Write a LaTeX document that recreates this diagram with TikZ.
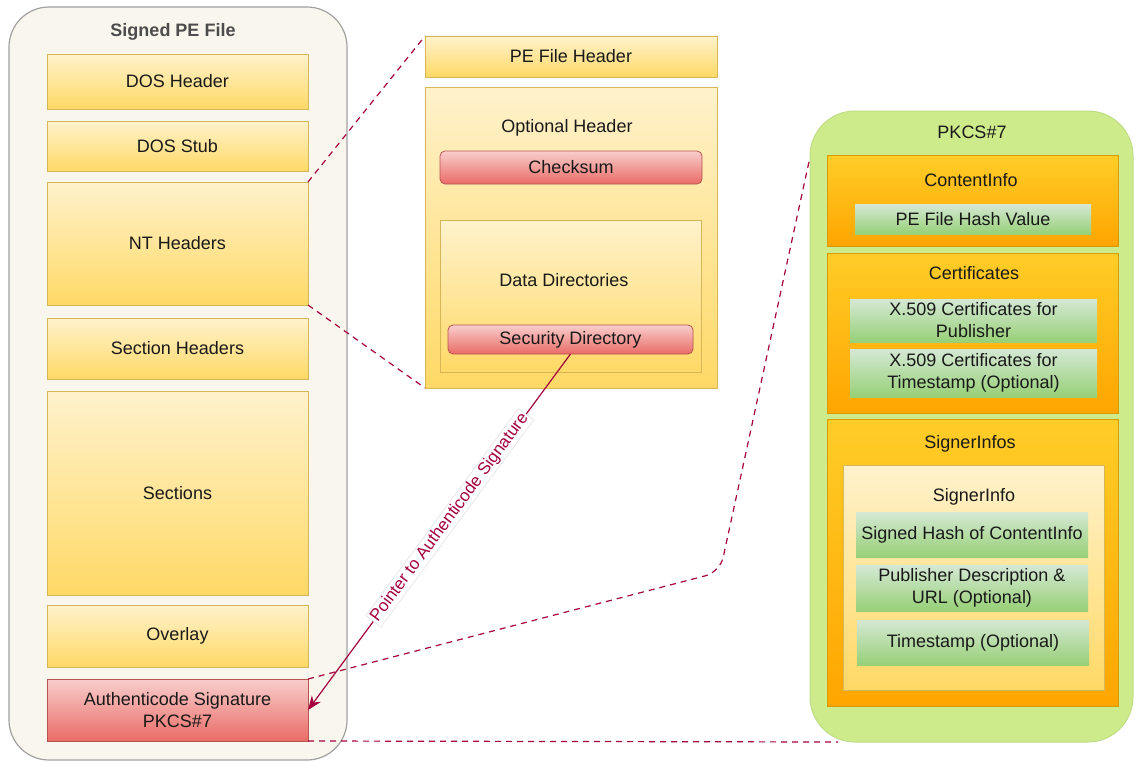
\documentclass[tikz,border=0pt]{standalone}
\usepackage{fontspec}
\setmainfont{Liberation Sans}
\usetikzlibrary{arrows.meta}
\definecolor{cYt}{HTML}{FFF2CC}
\definecolor{cYb}{HTML}{FFD966}
\definecolor{cYs}{HTML}{D6B656}
\definecolor{cRt}{HTML}{F8CECC}
\definecolor{cRb}{HTML}{EA6B66}
\definecolor{cRs}{HTML}{B85450}
\definecolor{cOt}{HTML}{FFCD28}
\definecolor{cOb}{HTML}{FFA500}
\definecolor{cOs}{HTML}{D79B00}
\definecolor{cGt}{HTML}{D5E8D4}
\definecolor{cGb}{HTML}{97D077}
\definecolor{cP}{HTML}{A50040}
\definecolor{cBg}{HTML}{F9F7ED}
\definecolor{cBs}{HTML}{A0A0A0}
\definecolor{cLime}{HTML}{CDEB8B}
\definecolor{cLimeS}{HTML}{BFDD85}
\newcommand{\fsz}{\fontsize{18}{22}\selectfont}
\tikzset{
  base/.style={inner sep=0pt, outer sep=0pt, anchor=north west, align=center, font=\fsz, text=black!90, line width=0.8pt},
  ybox/.style={base, draw=cYs, top color=cYt, bottom color=cYb},
  rbox/.style={base, draw=cRs, top color=cRt, bottom color=cRb},
  obox/.style={base, draw=cOs, top color=cOt, bottom color=cOb},
  gbox/.style={base, draw=none, top color=cGt, bottom color=cGb},
  ttl/.style={inner sep=0pt, font=\fsz, text=black!90},
  link/.style={draw=cP, line width=1.2pt, dash pattern=on 6pt off 5pt},
  ptr/.style={draw=cP, line width=1.2pt, -{Stealth[length=14pt,width=11pt]}},
  lbl/.style={fill=white, draw=black!15, line width=0.4pt, inner sep=1.5pt, font=\fontsize{17}{20}\selectfont, text=cP},
}
\begin{document}
\begin{tikzpicture}[x=1pt,y=-1pt]
\useasboundingbox (0,0) rectangle (1136,761);
% left container
\node[base, draw=cBs, fill=cBg, rounded corners=40pt, line width=1.2pt, minimum width=338pt, minimum height=753pt] (pe) at (9,7) {};
\node[ttl, font=\fsz\bfseries, text=black!70] (peT) at (173,32) {Signed PE File};
\node[ybox, minimum width=261pt, minimum height=55pt] (dos) at (47,54) {DOS Header};
\node[ybox, minimum width=261pt, minimum height=50pt] (stub) at (47,121) {DOS Stub};
\node[ybox, minimum width=261pt, minimum height=123pt] (nt) at (47,182) {NT Headers};
\node[ybox, minimum width=261pt, minimum height=61pt] (sech) at (47,318) {Section Headers};
\node[ybox, minimum width=261pt, minimum height=204pt] (sect) at (47,391) {Sections};
\node[ybox, minimum width=261pt, minimum height=62pt] (ovl) at (47,605) {Overlay};
\node[rbox, minimum width=261pt, minimum height=62pt] (auth) at (47,679) {Authenticode Signature\\PKCS\#7};
% middle
\node[ybox, minimum width=292pt, minimum height=41pt] (peh) at (425,36) {PE File Header};
\node[ybox, minimum width=292pt, minimum height=301pt] (opt) at (425,87) {};
\node[ttl] (optT) at (567,128) {Optional Header};
\node[rbox, rounded corners=5pt, minimum width=262pt, minimum height=33pt] (chk) at (440,151) {Checksum};
\node[ybox, minimum width=261pt, minimum height=152pt] (dd) at (440,220) {};
\node[ttl] (ddT) at (564,280) {Data Directories};
\node[rbox, rounded corners=5pt, minimum width=245pt, minimum height=29pt] (sec) at (448,325) {Security Directory};
% right
\node[base, draw=cLimeS, fill=cLime, rounded corners=45pt, line width=1pt, minimum width=323pt, minimum height=631pt] (pk) at (810,111) {};
\node[ttl] (pkT) at (972,132) {PKCS\#7};
\node[obox, minimum width=291pt, minimum height=91pt] (ci) at (827,155) {};
\node[ttl] (ciT) at (971,180) {ContentInfo};
\node[gbox, minimum width=236pt, minimum height=30pt] (hash) at (855,204) {PE File Hash Value};
\node[obox, minimum width=291pt, minimum height=160pt] (cert) at (827,253) {};
\node[ttl] (certT) at (974,273) {Certificates};
\node[gbox, minimum width=247pt, minimum height=43pt] (x1) at (850,299) {X.509 Certificates for\\Publisher};
\node[gbox, minimum width=247pt, minimum height=48pt] (x2) at (850,349) {X.509 Certificates for\\Timestamp (Optional)};
\node[obox, minimum width=291pt, minimum height=287pt] (sis) at (827,419) {};
\node[ttl] (sisT) at (970,444) {SignerInfos};
\node[ybox, minimum width=261pt, minimum height=225pt] (si) at (843,465) {};
\node[ttl] (siT) at (974,497) {SignerInfo};
\node[gbox, minimum width=232pt, minimum height=45pt] (sh) at (856,512) {Signed Hash of ContentInfo};
\node[gbox, minimum width=232pt, minimum height=46pt] (pd) at (856,565) {Publisher Description \&\\URL (Optional)};
\node[gbox, minimum width=232pt, minimum height=45pt] (ts) at (857,620) {Timestamp (Optional)};
% connectors
\coordinate (bend) at (720,572);
\coordinate (pkl) at (810,157);
\coordinate (pkb) at (838,742);
\draw[link] (nt.north east) -- (peh.north west);
\draw[link] (nt.south east) -- (opt.south west);
\draw[ptr] (sec.south) -- node[sloped, pos=0.46, lbl] (ptrL) {Pointer to Authenticode Signature} (auth.east);
\draw[link, rounded corners=15pt] (auth.north east) -- (bend) -- (pkl);
\draw[link] (auth.south east) -- (pkb);
\end{tikzpicture}
\end{document}
